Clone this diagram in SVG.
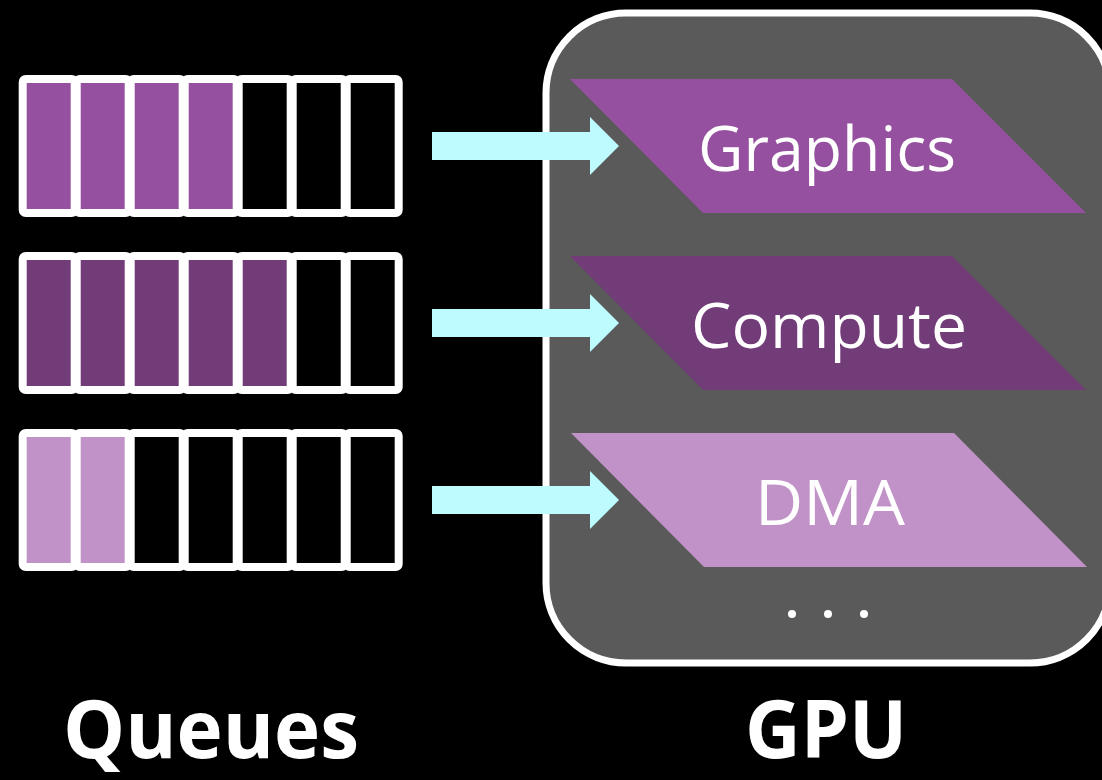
<svg xmlns="http://www.w3.org/2000/svg" width="1102" height="780" viewBox="0 0 1102 780">
  <style>
    .cell { stroke: #FFFFFF; stroke-width: 8; }
    .empty { fill: #000000; }
    .g { fill: #95519F; }
    .c { fill: #723C78; }
    .d { fill: #C192C7; }
    .arrow { fill: #BDFBFE; }
    .lbl { font-family: "Open Sans", "Liberation Sans", sans-serif; font-size: 62px; fill: #FFFFFF; text-anchor: middle; }
    .title { font-family: "Open Sans", "Liberation Sans", sans-serif; font-weight: bold; font-size: 80px; fill: #FFFFFF; text-anchor: middle; }
  </style>
  <rect x="0" y="0" width="1102" height="780" fill="#000000"/>

  <g id="gpu">
    <rect x="546" y="13" width="564" height="650" rx="80" ry="80" fill="#5A5A5A" stroke="#FFFFFF" stroke-width="7"/>
    <circle cx="792" cy="614" r="4" fill="#FFFFFF"/>
    <circle cx="828" cy="614" r="4" fill="#FFFFFF"/>
    <circle cx="864" cy="614" r="4" fill="#FFFFFF"/>
  </g>

  <g id="engine-graphics">
    <polygon points="570,79 952,79 1086,213 703,213" class="g"/>
    <text x="827" y="171" class="lbl" textLength="258" lengthAdjust="spacingAndGlyphs">Graphics</text>
  </g>
  <g id="engine-compute">
    <polygon points="570,256 952,256 1086,390 703,390" class="c"/>
    <text x="829" y="348" class="lbl" textLength="276" lengthAdjust="spacingAndGlyphs">Compute</text>
  </g>
  <g id="engine-dma">
    <polygon points="571,433 954,433 1087,567 704,567" class="d"/>
    <text x="830" y="525" class="lbl" textLength="150" lengthAdjust="spacingAndGlyphs">DMA</text>
  </g>

  <g id="queue-graphics">
    <rect class="cell g" x="22.7" y="79" width="52" height="134" rx="3"/>
    <rect class="cell g" x="76.7" y="79" width="52" height="134" rx="3"/>
    <rect class="cell g" x="130.7" y="79" width="52" height="134" rx="3"/>
    <rect class="cell g" x="184.7" y="79" width="52" height="134" rx="3"/>
    <rect class="cell empty" x="238.7" y="79" width="52" height="134" rx="3"/>
    <rect class="cell empty" x="292.7" y="79" width="52" height="134" rx="3"/>
    <rect class="cell empty" x="346.7" y="79" width="52" height="134" rx="3"/>
  </g>
  <g id="queue-compute">
    <rect class="cell c" x="22.7" y="256" width="52" height="134" rx="3"/>
    <rect class="cell c" x="76.7" y="256" width="52" height="134" rx="3"/>
    <rect class="cell c" x="130.7" y="256" width="52" height="134" rx="3"/>
    <rect class="cell c" x="184.7" y="256" width="52" height="134" rx="3"/>
    <rect class="cell c" x="238.7" y="256" width="52" height="134" rx="3"/>
    <rect class="cell empty" x="292.7" y="256" width="52" height="134" rx="3"/>
    <rect class="cell empty" x="346.7" y="256" width="52" height="134" rx="3"/>
  </g>
  <g id="queue-dma">
    <rect class="cell d" x="22.7" y="433" width="52" height="134" rx="3"/>
    <rect class="cell d" x="76.7" y="433" width="52" height="134" rx="3"/>
    <rect class="cell empty" x="130.7" y="433" width="52" height="134" rx="3"/>
    <rect class="cell empty" x="184.7" y="433" width="52" height="134" rx="3"/>
    <rect class="cell empty" x="238.7" y="433" width="52" height="134" rx="3"/>
    <rect class="cell empty" x="292.7" y="433" width="52" height="134" rx="3"/>
    <rect class="cell empty" x="346.7" y="433" width="52" height="134" rx="3"/>
  </g>

  <g id="connectors">
    <polygon class="arrow" points="432,132 590,132 590,117 619,146 590,175 590,160 432,160"/>
    <polygon class="arrow" points="432,309 590,309 590,294 619,323 590,352 590,337 432,337"/>
    <polygon class="arrow" points="432,486 590,486 590,471 619,500 590,529 590,514 432,514"/>
  </g>

  <g id="labels">
    <text x="211" y="758" class="title" textLength="296" lengthAdjust="spacingAndGlyphs">Queues</text>
    <text x="826" y="758" class="title" textLength="162" lengthAdjust="spacingAndGlyphs">GPU</text>
  </g>
</svg>
